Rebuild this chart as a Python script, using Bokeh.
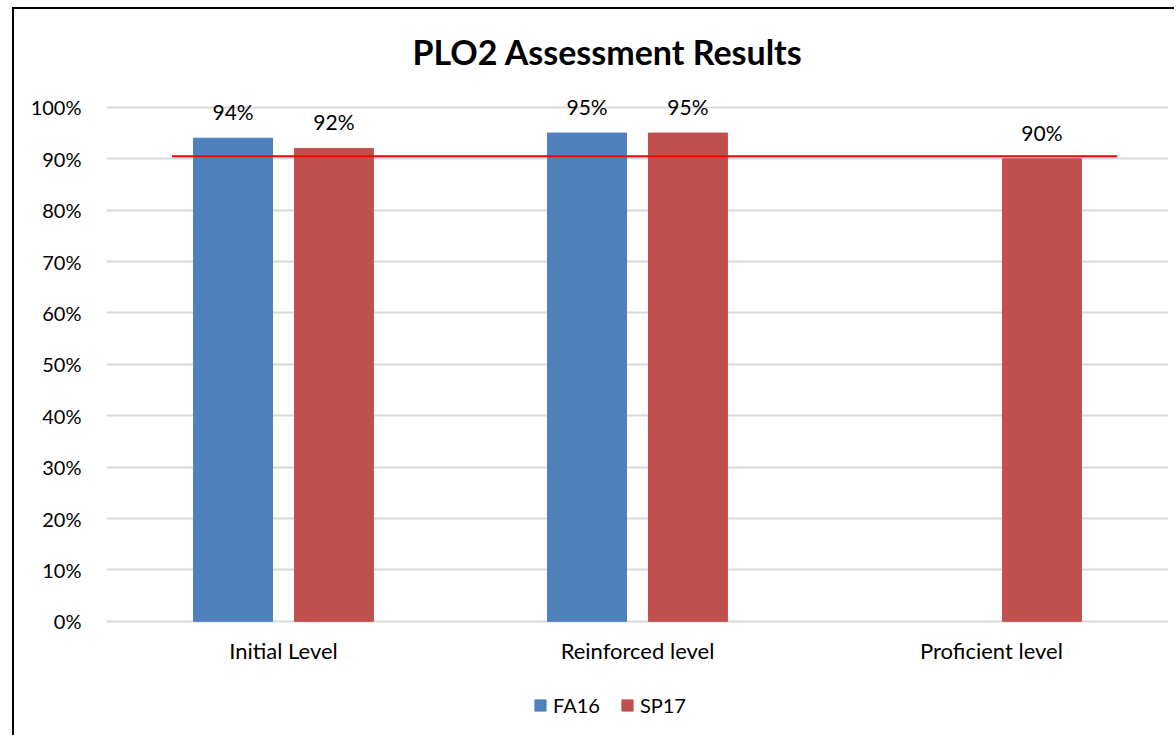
from bokeh.plotting import figure
from bokeh.models import (ColumnDataSource, Range1d, FixedTicker, NumeralTickFormatter,
                          LabelSet, Legend, LegendItem, Title)
from bokeh.core.properties import value
from bokeh.embed import file_html
from bokeh.resources import INLINE

# ---- data ----
categories = ["Initial Level", "Reinforced level", "Proficient level"]
fa16 = [0.94, 0.95, None]
sp17 = [0.92, 0.95, 0.90]
target_value = [0.905, 0.905]
target_x = [0.185, 2.855]          # category units
y_ticks = [0.0, 0.1, 0.2, 0.3, 0.4, 0.5, 0.6, 0.7, 0.8, 0.9, 1.0]

BLUE = "#4F81BD"
RED = "#C0504D"
FONT = "Lato"

centers = [i + 0.5 for i in range(len(categories))]
OFF = 0.1425
BW = 0.223


def make_source(vals, off):
    xs, ys, labs = [], [], []
    for c, v in zip(centers, vals):
        if v is None:
            continue
        xs.append(c + off)
        ys.append(v)
        labs.append(f"{round(v * 100)}%")
    return ColumnDataSource(dict(x=xs, y=ys, lab=labs))


src_fa = make_source(fa16, -OFF)
src_sp = make_source(sp17, OFF)

p = figure(width=1162, height=728, x_range=Range1d(0, 3), y_range=Range1d(-0.226, 1.06),
           output_backend="svg", toolbar_location=None, title=None,
           min_border_left=92, min_border_right=8, min_border_top=67, min_border_bottom=0)
p.styles = {"border-left": "2px solid black", "border-top": "2px solid black",
            "margin-left": "12px", "margin-top": "7px"}
p.outline_line_color = None
p.background_fill_color = "white"
p.border_fill_color = "white"

r1 = p.vbar(x="x", top="y", width=BW, source=src_fa, fill_color=BLUE, line_color=BLUE)
r2 = p.vbar(x="x", top="y", width=BW, source=src_sp, fill_color=RED, line_color=RED)

p.line(x=target_x, y=target_value, line_color="#FF0000", line_width=2)

for src in (src_fa, src_sp):
    p.add_layout(LabelSet(x="x", y="y", text="lab", source=src, text_align="center",
                          text_baseline="alphabetic", y_offset=18,
                          text_font=value(FONT), text_font_size="21px", text_color="#000000"))

# axes
p.xaxis.fixed_location = 0
p.xaxis.ticker = FixedTicker(ticks=centers)
p.xaxis.major_label_overrides = {c: n for c, n in zip(centers, categories)}
p.xaxis.axis_line_color = None
p.xaxis.major_tick_line_color = None
p.xaxis.minor_tick_line_color = None
p.xaxis.major_label_standoff = 10
p.xaxis.major_label_text_font = FONT
p.xaxis.major_label_text_font_size = "22px"
p.xaxis.major_label_text_color = "#000000"

p.yaxis.ticker = FixedTicker(ticks=y_ticks)
p.yaxis.formatter = NumeralTickFormatter(format="0%")
p.yaxis.axis_line_color = None
p.yaxis.major_tick_line_color = None
p.yaxis.minor_tick_line_color = None
p.yaxis.major_label_standoff = 19
p.yaxis.major_label_text_font = FONT
p.yaxis.major_label_text_font_size = "20px"
p.yaxis.major_label_text_color = "#000000"

p.xgrid.grid_line_color = None
p.ygrid.grid_line_color = "#D9D9D9"
p.ygrid.grid_line_width = 2

p.add_layout(Title(text="PLO2 Assessment Results", align="left", offset=306,
                   text_font=FONT, text_font_size="34px", text_font_style="bold",
                   text_color="#000000", standoff=10), "above")

legend = Legend(items=[LegendItem(label="FA16", renderers=[r1]),
                       LegendItem(label="SP17", renderers=[r2])],
                orientation="horizontal", location=(427, 20),
                glyph_width=14, glyph_height=14, label_height=14, label_standoff=6,
                spacing=20, padding=0, margin=0, border_line_color=None,
                background_fill_alpha=0, label_text_font=FONT,
                label_text_font_size="20px", label_text_color="#000000",
                label_text_baseline="middle")
p.add_layout(legend)

open("out.html", "w").write(file_html(p, INLINE))
